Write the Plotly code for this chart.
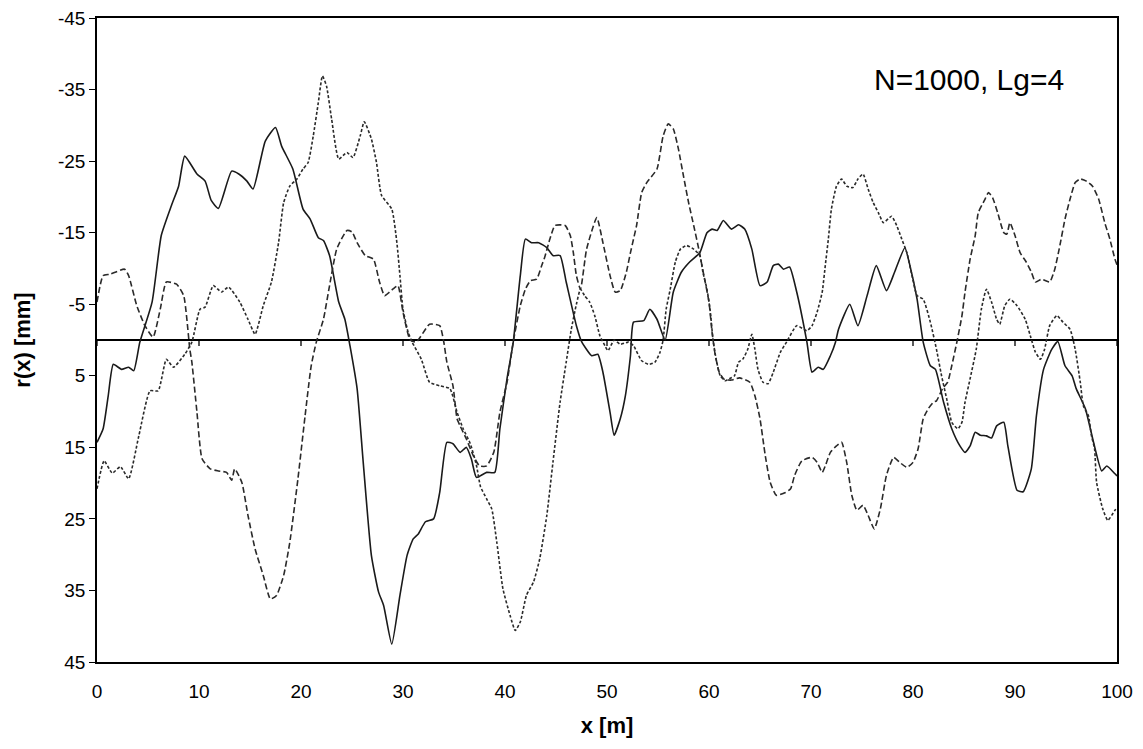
import plotly.graph_objects as go

# ---- data (x in m, r in mm) ----
solid_x = [0, 0.6, 1.1, 1.6, 2.4, 3.1, 3.6, 4.2, 5.4, 6.3, 7.3, 8.0, 8.6, 9.8, 10.6, 11.2, 11.9, 13.2, 13.9, 14.7,
           15.3, 16.5, 17.5, 18.1, 19.2, 20.2, 20.9, 21.7, 22.2, 22.8, 23.7, 24.3, 24.8, 25.5, 26.1, 26.9, 27.6, 28.1,
           28.9, 29.7, 30.4, 31.0, 31.5, 32.2, 33.0, 33.6, 34.3, 34.9, 35.6, 36.2, 36.7, 37.2, 38.2, 39.0, 39.5, 40.2,
           40.8, 41.5, 42.0, 42.6, 43.3, 44.1, 44.7, 45.4, 46.0, 47.0, 47.5, 48.5, 49.1, 49.6, 50.3, 50.7, 51.3, 51.8,
           52.3, 52.6, 53.6, 54.2, 54.9, 55.7, 56.5, 57.3, 58.1, 59.1, 59.8, 60.3, 60.8, 61.4, 62.2, 62.9, 63.5, 64.2,
           65.0, 65.7, 66.3, 66.8, 67.3, 67.9, 68.6, 69.6, 70.1, 70.7, 71.2, 71.9, 72.4, 72.7, 73.8, 74.6, 75.5, 76.4,
           77.4, 78.2, 79.2, 79.7, 80.4, 81.0, 81.7, 82.2, 83.0, 83.8, 84.6, 85.1, 85.6, 86.1, 86.6, 87.2, 87.7, 88.2,
           88.9, 89.3, 90.2, 90.8, 91.6, 92.1, 92.8, 93.6, 94.2, 94.9, 95.6, 96.0, 96.9, 97.7, 98.5, 99.0, 99.8, 100]
solid_r = [14.3, 12.4, 7.8, 3.4, 4.1, 3.8, 4.3, 0.3, -5.3, -14.6, -18.8, -21.5, -25.7, -23.2, -22.2, -19.5, -18.4,
           -23.6, -23.2, -22.2, -21.1, -27.8, -29.7, -27.1, -23.9, -18.3, -16.9, -14.3, -13.9, -11.8, -5.3, -2.9, 0.8,
           6.8, 17.1, 30.1, 35.2, 37.1, 42.5, 35.7, 30.1, 27.8, 27.1, 25.4, 25.0, 21.3, 14.3, 14.5, 15.7, 15.0, 16.6,
           19.2, 18.5, 18.5, 12.4, 5.4, 0.4, -9.0, -14.1, -13.6, -13.6, -12.9, -11.8, -11.8, -8.1, -2.0, 0.2, 2.2, 2.0,
           4.5, 10.1, 13.3, 11.0, 7.8, 2.2, -2.5, -2.7, -4.3, -2.9, 0.0, -6.7, -9.5, -10.9, -12.2, -15.0, -15.5, -15.3,
           -16.7, -15.5, -16.1, -15.5, -12.7, -7.6, -8.1, -10.4, -10.6, -9.9, -10.2, -6.7, 0.3, 4.5, 3.8, 4.1, 2.2, 0.3,
           -1.5, -5.0, -2.0, -6.2, -10.4, -6.9, -9.5, -12.9, -10.4, -5.7, 0.3, 3.6, 4.1, 8.7, 12.4, 14.8, 15.7, 14.8,
           12.9, 13.3, 13.4, 13.7, 12.0, 11.5, 14.8, 21.0, 21.2, 18.0, 10.6, 4.1, 1.3, 0.2, 3.6, 5.0, 6.8, 9.6, 14.3,
           18.3, 17.6, 18.7, 19.0]

dash_x = [0, 0.6, 1.3, 2.7, 3.1, 3.9, 4.7, 5.5, 6.2, 6.8, 7.8, 8.5, 9.1, 9.3, 9.8, 10.3, 11.1, 11.9, 12.7, 13.2,
          13.5, 14.2, 14.8, 15.5, 16.3, 17.0, 17.6, 18.3, 18.9, 19.7, 20.4, 21.0, 21.5, 22.2, 22.8, 23.5, 24.5, 25.0,
          25.5, 26.3, 27.1, 27.7, 28.2, 29.0, 29.5, 30.0, 30.7, 31.3, 32.6, 33.6, 34.0, 34.3, 34.9, 35.3, 35.6, 36.2,
          36.9, 37.5, 38.2, 38.9, 39.5, 40.2, 40.8, 41.5, 42.0, 42.5, 43.1, 43.6, 43.9, 44.4, 44.9, 45.9, 46.4, 46.7,
          47.0, 47.4, 48.0, 49.0, 49.6, 50.3, 50.8, 51.3, 51.9, 52.3, 52.6, 52.9, 53.4, 53.9, 54.9, 55.5, 56.0, 56.5,
          57.0, 57.5, 58.0, 58.5, 59.0, 59.5, 60.0, 60.3, 60.6, 61.0, 61.5, 62.2, 63.0, 64.0, 64.5, 65.0, 65.5, 66.0,
          66.6, 67.5, 68.0, 68.4, 69.1, 70.1, 70.6, 71.1, 71.4, 71.9, 72.5, 73.0, 73.5, 74.0, 74.5, 75.1, 75.6, 76.2,
          76.8, 77.4, 78.1, 78.7, 79.4, 80.0, 80.5, 81.0, 81.5, 82.0, 82.3, 82.9, 83.4, 83.8, 84.3, 84.8, 85.1, 85.6,
          86.1, 86.4, 87.0, 87.4, 87.8, 88.3, 88.9, 89.2, 89.5, 90.0, 90.5, 91.1, 91.6, 92.0, 92.6, 93.4, 93.9, 94.4,
          94.9, 95.4, 95.9, 96.4, 97.0, 97.6, 98.2, 98.8, 99.3, 99.8, 100]
dash_r = [-5.3, -9.0, -9.2, -9.9, -9.0, -4.8, -2.0, -0.4, -4.3, -8.1, -7.8, -6.2, 1.3, 3.1, 10.1, 16.6, 18.0, 18.3,
          18.5, 19.6, 18.0, 19.9, 24.5, 29.2, 32.9, 36.2, 35.7, 32.9, 28.3, 19.4, 10.6, 3.6, 0.3, -2.9, -7.6, -12.7,
          -15.3, -15.1, -13.6, -11.8, -11.3, -8.1, -6.2, -7.1, -7.6, -3.9, 0.0, 0.3, -2.2, -2.0, 0.3, 3.1, 6.4, 11.0,
          12.0, 13.8, 16.2, 17.6, 17.6, 15.7, 10.1, 5.9, 0.3, -4.8, -7.1, -8.3, -8.5, -10.4, -11.6, -14.1, -16.0,
          -16.0, -14.6, -12.2, -9.0, -7.1, -12.7, -17.1, -13.6, -9.0, -6.7, -6.9, -9.5, -12.2, -14.1, -16.0, -20.6,
          -22.0, -23.9, -28.5, -30.2, -29.5, -26.7, -22.9, -19.2, -16.0, -12.7, -9.0, -5.3, -1.1, 2.0, 4.5, 5.5, 5.6,
          5.3, 5.9, 7.8, 11.0, 16.0, 19.9, 21.7, 21.3, 20.8, 18.9, 16.9, 16.4, 17.1, 18.5, 17.6, 15.7, 14.8, 14.3,
          17.1, 21.7, 23.8, 23.1, 24.5, 26.4, 23.6, 18.9, 16.4, 17.1, 17.8, 17.1, 15.2, 11.0, 9.6, 8.7, 8.5, 6.8, 5.9,
          3.6, 0.3, -3.4, -6.7, -11.3, -14.6, -17.8, -19.5, -20.6, -19.9, -17.8, -15.0, -14.8, -16.4, -14.6, -12.2,
          -10.9, -9.5, -8.1, -8.5, -8.1, -9.9, -13.2, -16.9, -19.7, -22.0, -22.5, -22.2, -21.5, -19.7, -16.4, -14.1,
          -11.3, -10.5]

dot_x = [0, 0.7, 1.5, 2.3, 3.1, 4.1, 5.2, 6.0, 6.8, 7.5, 8.6, 9.3, 10.1, 10.6, 11.4, 12.2, 12.9, 14.0, 14.8, 15.5,
         16.3, 17.1, 17.8, 18.3, 18.9, 19.6, 20.2, 20.7, 21.2, 21.7, 22.1, 22.5, 23.0, 23.7, 24.5, 25.1, 25.8, 26.2,
         26.9, 27.4, 27.9, 28.9, 29.4, 29.7, 30.0, 30.5, 30.9, 31.8, 32.6, 33.6, 34.6, 35.3, 35.9, 36.6, 37.2, 37.6,
         38.2, 38.7, 39.2, 39.8, 40.5, 41.0, 41.5, 42.1, 42.8, 43.4, 44.1, 44.7, 45.4, 46.0, 46.5, 47.0, 47.4, 47.8,
         48.3, 48.8, 49.3, 49.8, 50.1, 50.7, 51.3, 52.1, 52.6, 53.4, 54.1, 54.7, 55.2, 55.5, 55.8, 56.2, 56.7, 57.2,
         57.8, 58.5, 59.1, 59.4, 59.8, 60.1, 60.4, 60.7, 61.1, 61.6, 62.0, 62.5, 62.9, 63.3, 63.8, 64.2, 64.5, 64.8,
         65.3, 65.8, 66.3, 67.0, 67.6, 68.6, 69.6, 70.1, 70.6, 71.1, 71.4, 71.7, 72.0, 72.5, 73.0, 73.5, 74.1, 74.6,
         75.1, 75.6, 76.1, 76.6, 77.1, 77.9, 78.4, 78.9, 79.4, 79.9, 80.4, 81.0, 81.7, 82.3, 82.8, 83.3, 83.8, 84.4,
         84.8, 85.1, 85.6, 86.2, 86.7, 87.2, 87.7, 88.2, 88.5, 89.0, 89.5, 90.2, 91.0, 91.5, 92.0, 92.5, 92.9, 93.4,
         94.1, 94.7, 95.4, 95.9, 96.4, 96.7, 97.2, 97.5, 97.8, 98.0, 98.6, 99.1, 99.8, 100]
dot_r = [20.8, 16.9, 18.6, 17.7, 19.4, 13.4, 7.1, 7.1, 2.7, 3.8, 2.0, 0.3, -4.3, -4.6, -7.6, -6.7, -7.4, -5.3, -2.9,
         -0.8, -4.8, -8.1, -13.6, -19.2, -21.5, -22.5, -23.9, -24.8, -28.5, -33.2, -36.9, -35.5, -30.9, -25.3, -26.2,
         -25.5, -28.5, -30.5, -28.1, -24.8, -20.2, -18.3, -13.6, -9.0, -4.3, -1.1, 0.3, 2.7, 5.9, 6.4, 6.8, 10.1,
         12.4, 14.5, 17.5, 20.5, 22.2, 23.6, 28.3, 34.8, 38.5, 40.6, 39.4, 35.7, 33.8, 30.6, 24.5, 17.1, 8.7, 3.1,
         -1.5, -5.0, -7.1, -6.2, -5.3, -3.4, -0.6, 0.8, 1.5, 0.0, 0.6, 0.3, 0.8, 2.9, 3.4, 3.1, 1.7, 0.0, -4.3,
         -7.1, -10.9, -12.7, -13.2, -12.7, -11.8, -9.5, -7.1, -4.3, 0.0, 2.7, 5.0, 5.7, 5.4, 5.0, 3.1, 2.7, 1.3,
         -0.8, 1.3, 4.1, 5.9, 6.1, 4.5, 1.7, 0.3, -2.0, -1.3, -2.0, -3.9, -6.7, -10.4, -14.1, -18.3, -21.5, -22.5,
         -21.5, -21.3, -22.5, -23.2, -21.1, -19.2, -17.8, -16.4, -17.3, -16.0, -14.1, -12.2, -9.0, -6.2, -5.7, -2.5,
         1.3, 5.0, 8.2, 11.5, 12.4, 11.5, 8.7, 5.4, 1.3, -4.3, -7.1, -5.3, -2.9, -2.2, -4.8, -5.7, -4.8, -2.9, -0.6,
         1.7, 2.7, 1.3, -2.0, -3.4, -2.5, -1.5, 1.3, 5.9, 9.2, 10.6, 13.4, 15.2, 19.9, 23.6, 25.2, 23.8, 23.5]

x_ticks = [0, 10, 20, 30, 40, 50, 60, 70, 80, 90, 100]
y_ticks = [-45, -35, -25, -15, -5, 5, 15, 25, 35, 45]
label_text = "N=1000, Lg=4"

FONT = "Liberation Sans, Arial, sans-serif"
INK = "#1a1a1a"

fig = go.Figure()
fig.add_trace(go.Scatter(x=solid_x, y=solid_r, mode="lines",
                         line=dict(color=INK, width=1.6, dash="solid", shape="spline", smoothing=0.5),
                         showlegend=False))
fig.add_trace(go.Scatter(x=dash_x, y=dash_r, mode="lines",
                         line=dict(color="#2a2a2a", width=1.6, dash="6px,3px", shape="spline", smoothing=0.5),
                         showlegend=False))
fig.add_trace(go.Scatter(x=dot_x, y=dot_r, mode="lines",
                         line=dict(color="#2a2a2a", width=1.6, dash="3px,2px", shape="spline", smoothing=0.5),
                         showlegend=False))

# ticks hanging from the zero line (category axis crossing at 0)
for t in x_ticks:
    fig.add_shape(type="line", xref="x", yref="y", x0=t, x1=t,
                  ysizemode="pixel", yanchor=0, y0=0, y1=-6,
                  line=dict(color="black", width=1.3))

fig.add_annotation(x=0.855, y=0.905, xref="paper", yref="paper", text=label_text,
                   showarrow=False, font=dict(family=FONT, size=30, color="black"),
                   xanchor="center", yanchor="middle")

# the page body adds an 8px offset, so the figure is slightly smaller than the window
fig.update_layout(
    width=1135, height=741,
    margin=dict(l=89, r=26, t=10, b=87),
    paper_bgcolor="white", plot_bgcolor="white",
    font=dict(family=FONT, color="black"),
)
fig.update_xaxes(range=[0, 100], tickvals=x_ticks, ticktext=[str(v) for v in x_ticks],
                 automargin=False, ticklabeloverflow="allow",
                 showgrid=False, zeroline=False, showline=True, mirror=True,
                 linecolor="black", linewidth=1.5, ticks="", ticklabelstandoff=11,
                 tickfont=dict(family=FONT, size=19, color="black"),
                 title=dict(text="<b>x [m]</b>", font=dict(family=FONT, size=22, color="black"), standoff=17))
fig.update_yaxes(range=[45, -45], tickvals=y_ticks, ticktext=[str(v) for v in y_ticks],
                 automargin=False, ticklabeloverflow="allow",
                 showgrid=False, zeroline=True, zerolinecolor="black", zerolinewidth=1.5,
                 showline=True, mirror=True, linecolor="black", linewidth=1.5,
                 ticks="outside", ticklen=6, tickcolor="black", tickwidth=1.3,
                 tickfont=dict(family=FONT, size=19, color="black"),
                 title=dict(text="<b>r(x) [mm]</b>", font=dict(family=FONT, size=22, color="black"), standoff=21))

fig.write_html("out.html")
